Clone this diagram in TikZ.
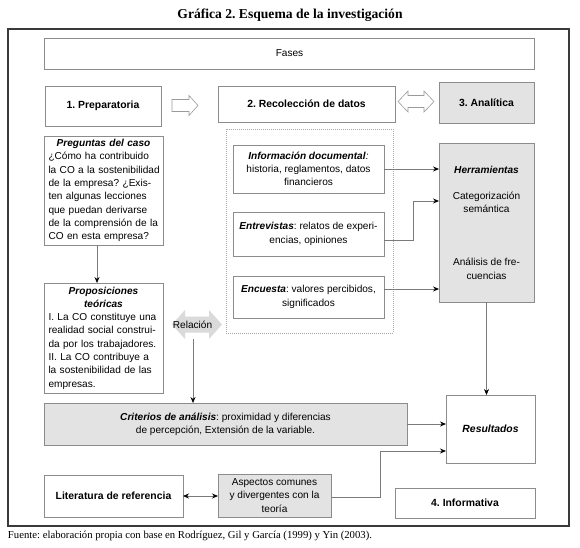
\documentclass[tikz,border=0pt]{standalone}
\usepackage{fontspec}
\setmainfont{Liberation Sans}
\newfontfamily\timesf{Liberation Serif}
\usetikzlibrary{arrows.meta,calc}
\definecolor{frameC}{HTML}{3A3A3A}
\definecolor{boxC}{HTML}{8C8C8C}
\definecolor{dotC}{HTML}{A8A8A8}
\definecolor{fillC}{HTML}{E3E3E3}
\definecolor{lineC}{HTML}{7A7A7A}
\definecolor{arrC}{HTML}{9A9A9A}
\definecolor{relC}{HTML}{DADADA}
\frenchspacing
\begin{document}
\begin{tikzpicture}[x=1pt,y=-1pt,
  every node/.style={font=\fontsize{10.1}{13.3}\selectfont, inner sep=0pt, outer sep=0pt},
  box/.style={draw=boxC, line width=0.8pt, fill=white},
  gbox/.style={box, fill=fillC},
  boldlbl/.style={font=\bfseries\fontsize{10.4}{13.3}\selectfont},
  leftbox/.style={box, minimum width=119pt, text width=114pt, inner xsep=2.5pt},
  conn/.style={draw=lineC, line width=0.7pt, -{Stealth[length=6pt,width=5pt,color=black]}},
  dconn/.style={draw=lineC, line width=0.7pt, {Stealth[length=6pt,width=5pt,color=black]}-{Stealth[length=6pt,width=5pt,color=black]}},
  hollow/.style={draw=arrC, line width=0.6pt, fill=white, line join=miter}]
\useasboundingbox (0,0) rectangle (580,547);
\fill[white] (0,0) rectangle (580,547);

% title and frame
\node[font=\timesf\bfseries\fontsize{13.6}{16}\selectfont] (title) at (290,15) {Gráfica 2. Esquema de la investigación};
\draw[frameC, line width=1.8pt] (8,29) rectangle (569,526);

% phases row
\node[box, minimum width=490pt, minimum height=31pt] (fases) at (289.5,53.5) {Fases};
\node[box, boldlbl, minimum width=116pt, minimum height=40pt] (prep) at (103,106) {1. Preparatoria};
\node[box, boldlbl, minimum width=177pt, minimum height=36pt] (rec) at (306.5,104) {2. Recolección de datos};
\node[gbox, boldlbl, minimum width=95pt, minimum height=41pt] (ana) at (486.5,102.5) {3. Analítica};

% hollow arrows
\draw[hollow] (172,99.5) -- (189,99.5) -- (189,95.5) -- (198,105.5) -- (189,115.5) -- (189,111.5) -- (172,111.5) -- cycle;
\draw[hollow] (398,101.5) -- (408,91) -- (408,95.5) -- (424,95.5) -- (424,91) -- (434,101.5) -- (424,112) -- (424,107.5) -- (408,107.5) -- (408,112) -- cycle;

% left column
\node[leftbox, minimum height=109pt] (preg) at (103.5,190.5)
 {\centering\textbf{\textit{Preguntas del caso}}\par\raggedright\hspace*{2pt}%
  ¿Cómo ha contribuido\\\hspace*{2pt}la CO a la sostenibilidad\\\hspace*{2pt}de la empresa? ¿Exis-\\\hspace*{2pt}ten algunas lecciones\\\hspace*{2pt}que puedan derivarse\\\hspace*{2pt}de la comprensión de la\\\hspace*{2pt}CO en esta empresa?};
\node[leftbox, minimum height=110pt] (prop) at (103.5,338)
 {\centering\textbf{\textit{Proposiciones\\teóricas}}\par\raggedright\hspace*{2pt}%
  I. La CO constituye una\\\hspace*{2pt}realidad social construi-\\\hspace*{2pt}da por los trabajadores.\\\hspace*{2pt}II. La CO contribuye a\\\hspace*{2pt}la sostenibilidad de las\\\hspace*{2pt}empresas.};

% relation arrow
\fill[relC] (172,324.5) -- (185,310) -- (185,316.5) -- (209,316.5) -- (209,310) -- (222,324.5) -- (209,339) -- (209,332.5) -- (185,332.5) -- (185,339) -- cycle;
\node (rel) at (192.5,324.5) {Relación};

% data collection
\draw[dotC, line width=0.6pt, dash pattern=on 0.6pt off 1.4pt] (226,129) rectangle (393,333);
\node[box, minimum width=151pt, minimum height=48pt, align=center] (info) at (308.5,169)
 {\textbf{\textit{Información documental}}\textit{:}\\historia, reglamentos, datos\\financieros};
\node[box, minimum width=151pt, minimum height=44pt, align=center] (ent) at (308.5,234)
 {\textbf{\textit{Entrevistas}}: relatos de experi-\\encias, opiniones};
\node[box, minimum width=151pt, minimum height=42pt, align=center] (enc) at (308.5,297)
 {\textbf{\textit{Encuesta}}: valores percibidos,\\significados};

\node[gbox, minimum width=95pt, minimum height=159pt, align=center] (herr) at (486.5,222.5)
 {\textbf{\textit{Herramientas}}\\[13pt]Categorización\\semántica\\[40pt]Análisis de fre-\\cuencias};

% bottom
\node[gbox, minimum width=363pt, minimum height=42pt, align=center] (crit) at (225.5,424)
 {\textbf{\textit{Criterios de análisis}}: proximidad y diferencias\\de percepción, Extensión de la variable.};
\node[box, minimum width=89pt, minimum height=68pt, font=\bfseries\itshape\fontsize{10.4}{13.3}\selectfont] (res) at (490.5,429) {Resultados};
\node[box, boldlbl, minimum width=139pt, minimum height=42pt] (lit) at (113.5,496) {Literatura de referencia};
\node[gbox, minimum width=113pt, minimum height=43pt, align=center] (asp) at (274.5,495.5)
 {Aspectos comunes\\y divergentes con la\\teoría};
\node[box, boldlbl, minimum width=140pt, minimum height=30pt] (inf) at (465,503) {4. Informativa};

% connectors
\coordinate (pa) at (97,0);
\draw[conn] (preg.south -| pa) -- (prop.north -| pa);
\coordinate (relb) at (193,339);
\draw[conn] (relb) -- (relb |- crit.north);
\draw[conn] (info.east) -- (info.east -| herr.west);
\coordinate (eb) at (413,240);
\coordinate (hb) at (413,201);
\draw[conn] (ent.east |- eb) -- (eb) -- (hb) -- (hb -| herr.west);
\coordinate (encb) at (384,289);
\draw[conn] (enc.east |- encb) -- (encb -| herr.west);
\draw[conn] (herr.south) -- (herr.south |- res.north);
\draw[conn] (crit.east) -- (crit.east -| res.west);
\draw[dconn] (lit.east) -- (lit.east -| asp.west);
\coordinate (ab) at (380,497);
\coordinate (ab2) at (380,451);
\draw[conn] (asp.east |- ab) -- (ab) -- (ab2) -- (ab2 -| res.west);

% source
\node[font=\timesf\fontsize{10.7}{12}\selectfont, anchor=base west] (fuente) at (8,538)
 {Fuente: elaboración propia con base en Rodríguez, Gil y García (1999) y Yin (2003).};
\end{tikzpicture}
\end{document}
